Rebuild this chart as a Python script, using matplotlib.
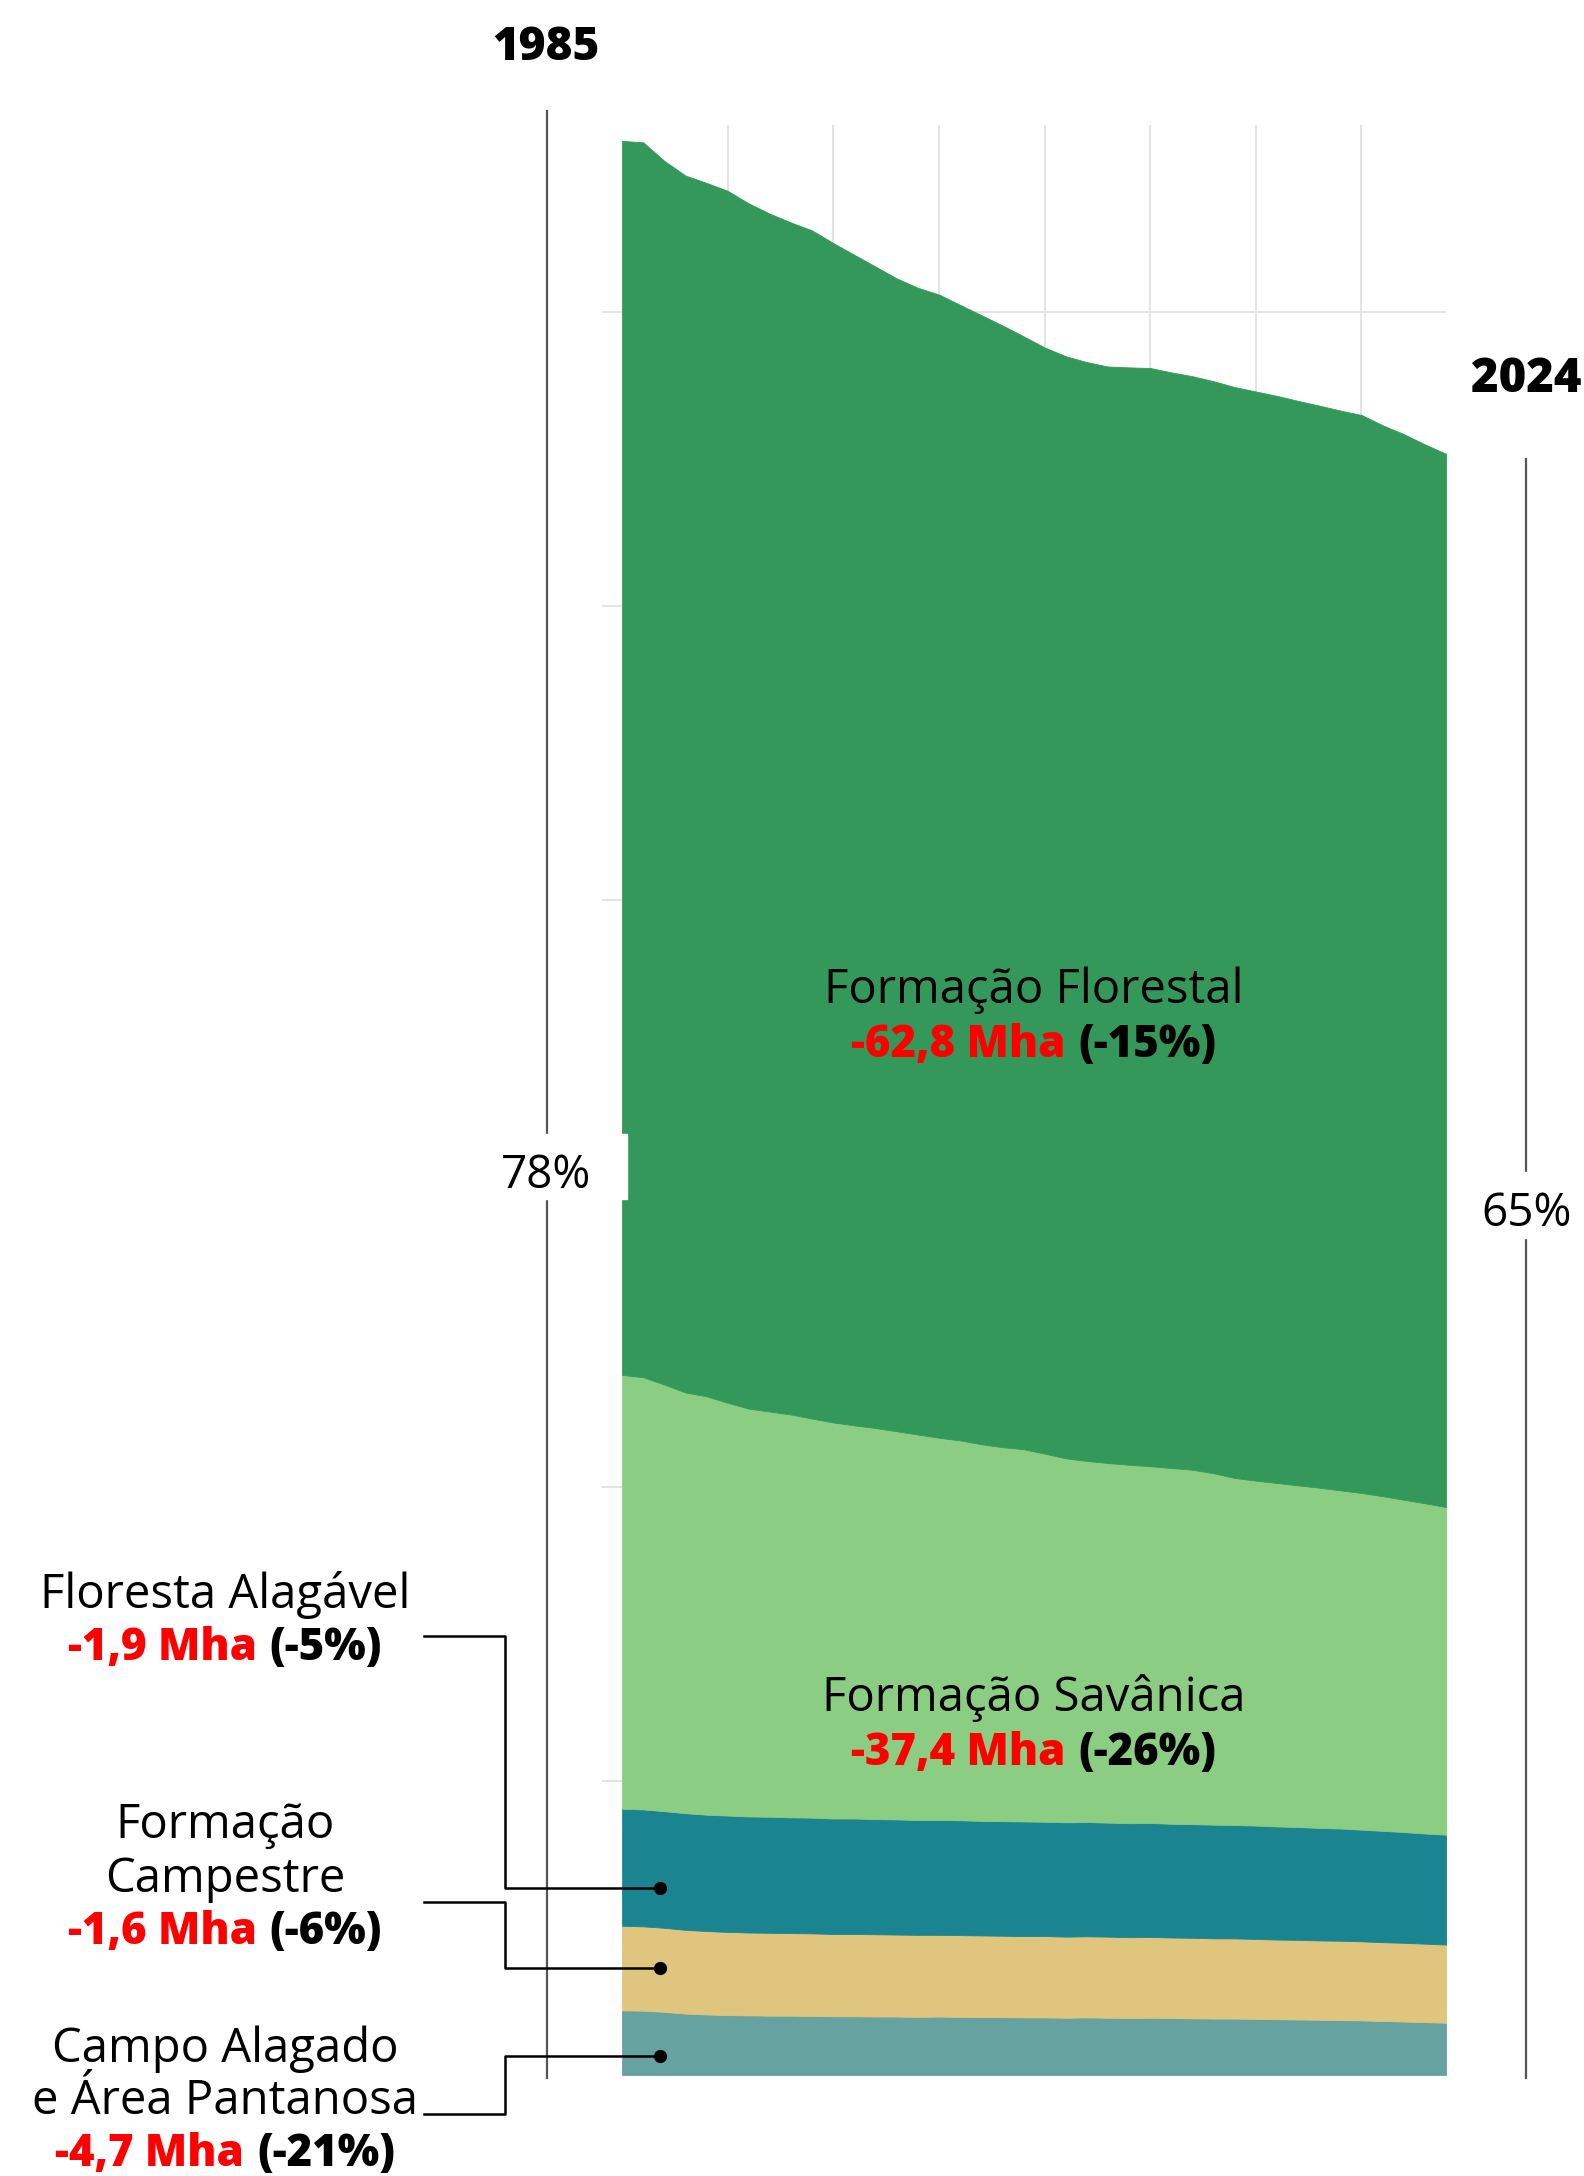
import matplotlib
matplotlib.use('Agg')
import numpy as np
import matplotlib.pyplot as plt
from matplotlib.patches import Rectangle
from matplotlib.lines import Line2D

plt.rcParams['font.family'] = ['Open Sans', 'DejaVu Sans']

# --- data (Mha), 1985-2024 ---
years = list(range(1985, 2025))

campo_alagado = [22.0, 21.9, 21.5, 20.9, 20.6, 20.4, 20.3, 20.2, 20.2, 20.1,
                 20.0, 20.0, 19.9, 19.9, 19.8, 19.9, 19.8, 19.7, 19.7, 19.6,
                 19.6, 19.5, 19.6, 19.5, 19.4, 19.5, 19.4, 19.3, 19.2, 19.2,
                 19.1, 19.0, 18.9, 18.8, 18.7, 18.6, 18.4, 18.2, 18.0, 17.8]
campestre = [28.8, 28.7, 28.6, 28.5, 28.4, 28.3, 28.2, 28.2, 28.1, 28.1,
             28.0, 28.0, 28.0, 27.9, 27.9, 27.8, 27.8, 27.8, 27.7, 27.7,
             27.7, 27.6, 27.6, 27.6, 27.5, 27.5, 27.4, 27.4, 27.3, 27.3,
             27.2, 27.1, 27.1, 27.0, 27.0, 26.9, 26.8, 26.8, 26.7, 26.6]
floresta_alagavel = [39.8, 39.8, 39.7, 39.7, 39.6, 39.6, 39.5, 39.5, 39.4, 39.4,
                     39.3, 39.3, 39.2, 39.2, 39.1, 39.1, 39.1, 39.0, 39.0, 39.0,
                     38.9, 38.9, 38.9, 38.8, 38.8, 38.8, 38.7, 38.7, 38.7, 38.6,
                     38.6, 38.5, 38.4, 38.3, 38.2, 38.0, 37.9, 37.7, 37.5, 37.4]
savanica = [147.7, 147.1, 145.2, 143.2, 142.4, 140.5, 138.8, 137.9, 137.1, 135.8,
            134.8, 133.8, 133.1, 132.1, 131.2, 130.1, 129.3, 128.2, 127.3, 126.7,
            125.3, 123.9, 122.9, 122.4, 122.0, 121.4, 121.1, 120.6, 119.6, 118.1,
            117.4, 116.9, 116.3, 115.8, 115.1, 114.6, 113.9, 113.1, 112.4, 111.5]
florestal = [420.0, 420.3, 416.5, 414.2, 413.0, 412.5, 410.2, 407.7, 405.7, 404.4,
             401.4, 398.4, 395.3, 392.4, 390.3, 389.1, 386.5, 384.3, 381.8, 378.8,
             376.5, 375.1, 374.0, 373.2, 373.5, 373.8, 372.9, 372.2, 371.7, 371.3,
             370.7, 370.0, 369.1, 368.3, 367.5, 366.9, 364.5, 362.7, 360.4, 358.5]

colors = ['#66a3a0', '#e0c57e', '#1a8490', '#8bcd82', '#35985b']

W, H = 1584, 2176
fig = plt.figure(figsize=(W / 100, H / 100), dpi=100)
fig.patch.set_facecolor('white')


def fx(px):
    return px / W


def fy(py):
    return 1 - py / H


# plot area in pixel coords
ax = fig.add_axes([fx(602), fy(2075), fx(1446) - fx(602), fy(125) - fy(2075)])
ax.stackplot(years, campo_alagado, campestre, floresta_alagavel, savanica, florestal,
             colors=colors, edgecolor='face', linewidth=0.6, zorder=2)
ax.set_xlim(1984.05, 2024)
ax.set_ylim(0, 663.7)
ax.set_xticks(range(1990, 2021, 5))
ax.set_yticks(range(100, 601, 100))
ax.grid(True, color='#e4e4e4', linewidth=1.4, zorder=0)
ax.tick_params(length=0, labelbottom=False, labelleft=False)
for s in ax.spines.values():
    s.set_visible(False)

FS = 34      # regular labels
FSB = 31.5   # bold value lines
BOLD = 800

# year markers and side lines
line_col = '#555555'
fig.add_artist(Line2D([fx(547), fx(547)], [fy(111), fy(2078)], color=line_col, lw=1.6))
fig.add_artist(Line2D([fx(1526), fx(1526)], [fy(459), fy(2078)], color=line_col, lw=1.6))
fig.text(fx(546), fy(60), '1985', ha='center', va='baseline', fontsize=33, weight=BOLD)
fig.text(fx(1526), fy(392), '2024', ha='center', va='baseline', fontsize=34, weight=BOLD)

fig.add_artist(Rectangle((fx(472), fy(1199)), fx(627) - fx(472), fy(1134) - fy(1199),
                         transform=fig.transFigure, color='white', zorder=5))
fig.text(fx(546), fy(1188), '78%', ha='center', va='baseline', fontsize=33, zorder=6)
fig.add_artist(Rectangle((fx(1468), fy(1238)), fx(1584) - fx(1468), fy(1172) - fy(1238),
                         transform=fig.transFigure, color='white', zorder=5))
fig.text(fx(1527), fy(1226), '65%', ha='center', va='baseline', fontsize=33, zorder=6)

renderer = fig.canvas.get_renderer()


def two_tone(cx, base, red, black):
    t1 = fig.text(0, 0, red, color='#ff0000', weight=BOLD, fontsize=FSB,
                  ha='left', va='baseline', zorder=6)
    t2 = fig.text(0, 0, black, color='black', weight=BOLD, fontsize=FSB,
                  ha='left', va='baseline', zorder=6)
    w1 = t1.get_window_extent(renderer).width
    w2 = t2.get_window_extent(renderer).width
    gap = FSB * 0.42
    left = cx - (w1 + gap + w2) / 2
    t1.set_position((fx(left), fy(base)))
    t2.set_position((fx(left + w1 + gap), fy(base)))


def label(cx, base, text):
    fig.text(fx(cx), fy(base), text, ha='center', va='baseline', fontsize=FS, zorder=6)


# labels inside the chart
label(1034, 1003, 'Formação Florestal')
two_tone(1034, 1057, '-62,8 Mha', '(-15%)')
label(1034, 1711, 'Formação Savânica')
two_tone(1034, 1765, '-37,4 Mha', '(-26%)')

# labels on the left
label(225, 1608, 'Floresta Alagável')
two_tone(225, 1660, '-1,9 Mha', '(-5%)')
label(225, 1838, 'Formação')
label(225, 1892, 'Campestre')
two_tone(225, 1944, '-1,6 Mha', '(-6%)')
label(225, 2062, 'Campo Alagado')
label(225, 2114, 'e Área Pantanosa')
two_tone(225, 2166, '-4,7 Mha', '(-21%)')

# connectors
for y_text, y_dot in [(1636, 1888), (1902, 1968), (2114, 2056)]:
    xs = [fx(424), fx(505), fx(505), fx(660)]
    ys = [fy(y_text), fy(y_text), fy(y_dot), fy(y_dot)]
    fig.add_artist(Line2D(xs, ys, color='black', lw=1.8, zorder=7))
    fig.add_artist(Line2D([fx(660)], [fy(y_dot)], color='black', marker='o',
                          markersize=8.5, zorder=7))

fig.savefig('out.png', dpi=100, facecolor='white')
